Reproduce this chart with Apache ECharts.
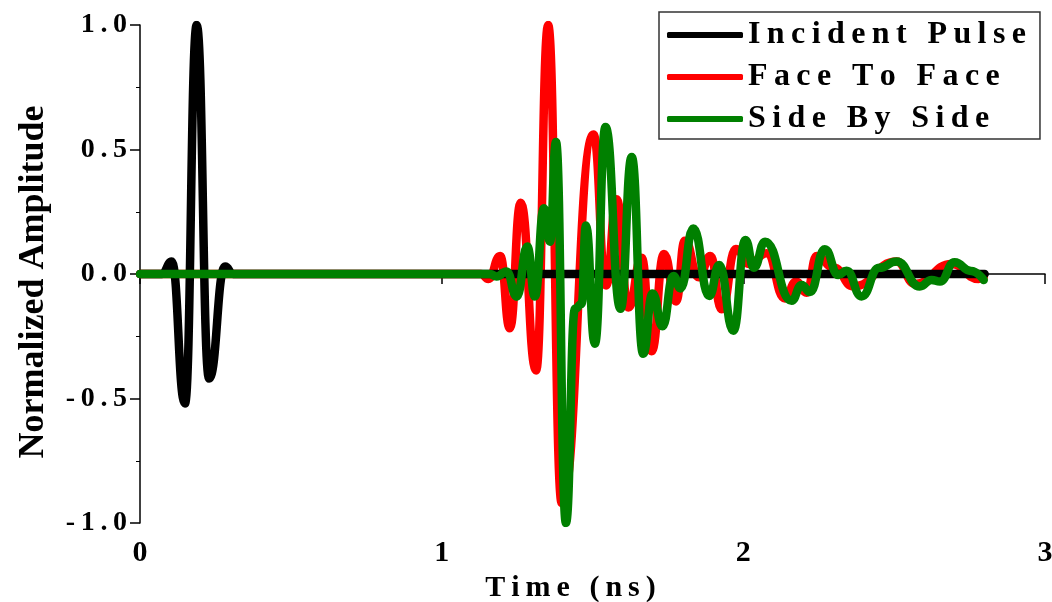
<!DOCTYPE html>
<html>
<head>
<meta charset="utf-8">
<script src="https://cdn.jsdelivr.net/npm/echarts@6/dist/echarts.min.js"></script>
<style>
  html, body { margin: 0; padding: 0; background: #fff; }
  #chart { width: 1052px; height: 602px; }
</style>
</head>
<body>
<div id="chart"></div>
<script>
// time (ns) / normalized amplitude at the turning points
const incidentT = [0, 0.072, 0.105, 0.149, 0.188, 0.229, 0.282, 0.309, 2.8]
const incidentA = [0, 0, 0.05, -0.52, 1.0, -0.42, 0.03, 0, 0]

const faceT = [0, 1.13, 1.155, 1.194, 1.226, 1.262, 1.313, 1.353, 1.398, 1.503, 1.545, 1.58, 1.619, 1.663, 1.696,
  1.737, 1.777, 1.806, 1.852, 1.891, 1.928, 1.975, 2.02, 2.077, 2.138, 2.175, 2.21, 2.243, 2.3, 2.364,
  2.508, 2.569, 2.69, 2.78, 2.797]
const faceA = [0, 0, -0.02, 0.072, -0.218, 0.286, -0.388, 1.0, -0.92, 0.56, -0.046, 0.3, -0.135, 0.065, -0.31,
  0.08, -0.11, 0.134, -0.013, 0.072, -0.142, 0.1, 0.04, 0.083, -0.098, -0.03, -0.075, 0.072, 0.025, -0.05,
  0.05, -0.04, 0.04, -0.02, -0.012]

const sideT = [0, 1.16, 1.182, 1.215, 1.249, 1.284, 1.309, 1.339, 1.359, 1.379, 1.412, 1.442, 1.464, 1.478,
  1.508, 1.543, 1.593, 1.63, 1.668, 1.699, 1.732, 1.768, 1.792, 1.834, 1.887, 1.92, 1.967, 2.007, 2.035,
  2.072, 2.16, 2.193, 2.221, 2.27, 2.315, 2.342, 2.392, 2.45, 2.508, 2.585, 2.624, 2.652, 2.7, 2.755, 2.797]
const sideA = [0, 0, -0.01, 0.01, -0.091, 0.11, -0.09, 0.264, 0.13, 0.53, -1.0, -0.14, -0.12, 0.195,
  -0.28, 0.59, -0.14, 0.47, -0.32, -0.078, -0.21, -0.008, -0.058, 0.183, -0.088, 0.036, -0.228, 0.137, 0.025,
  0.13, -0.107, -0.044, -0.072, 0.099, -0.004, 0.013, -0.09, 0.025, 0.05, -0.05, -0.024, -0.03, 0.047, 0.012, -0.024]

const xTicks = [0, 1, 2, 3]
const yTicks = [-1.0, -0.5, 0.0, 0.5, 1.0]

const FONT = "'Liberation Serif', 'Times New Roman', serif"

// the original letter-spaces most of its text
function spaced(s) {
  return s.split('').join('\u2009')
}

function zip(xs, ys) {
  return xs.map((x, i) => [x, ys[i]])
}

function lineSeries(name, color, xs, ys) {
  return {
    name,
    type: 'line',
    data: zip(xs, ys),
    smooth: 0.5,
    smoothMonotone: 'x',
    showSymbol: false,
    symbol: 'none',
    lineStyle: { color, width: 8.5, cap: 'round', join: 'round' },
    itemStyle: { color },
  }
}

const chart = echarts.init(document.getElementById('chart'))

chart.setOption({
  animation: false,
  backgroundColor: '#fff',
  grid: { left: 140, right: 7, top: 25, bottom: 79, outerBoundsMode: 'none' },
  legend: {
    data: ['Incident Pulse', 'Face To Face', 'Side By Side'],
    orient: 'vertical',
    left: 659,
    top: 12,
    padding: [7, 14, 4, 8],
    itemGap: 10,
    itemWidth: 76,
    itemHeight: 6,
    icon: 'roundRect',
    borderColor: '#333',
    borderWidth: 1.5,
    formatter: (name) => spaced(name),
    textStyle: { fontFamily: FONT, fontWeight: 'bold', fontSize: 32, color: '#000' },
  },
  xAxis: {
    type: 'value',
    min: xTicks[0],
    max: xTicks[xTicks.length - 1],
    interval: 1,
    name: spaced('Time (ns)'),
    nameLocation: 'middle',
    nameGap: 47,
    nameTextStyle: { fontFamily: FONT, fontWeight: 'bold', fontSize: 30, color: '#000', padding: [0, 44, 0, 0] },
    axisLine: { lineStyle: { color: '#000', width: 1.5 } },
    axisTick: { length: 10, lineStyle: { color: '#000', width: 1.5 } },
    minorTick: { show: true, splitNumber: 2, length: 4, lineStyle: { color: '#000', width: 1 } },
    axisLabel: { margin: 15, fontFamily: FONT, fontWeight: 'bold', fontSize: 30, color: '#000', formatter: (v) => String(v) },
    splitLine: { show: false },
  },
  yAxis: {
    type: 'value',
    min: yTicks[0],
    max: yTicks[yTicks.length - 1],
    interval: 0.5,
    name: 'Normalized Amplitude',
    nameLocation: 'middle',
    nameGap: 88,
    nameTextStyle: { fontFamily: FONT, fontWeight: 'bold', fontSize: 36, color: '#000', padding: [0, 16, 0, 0] },
    axisLine: { lineStyle: { color: '#000', width: 1.5 } },
    axisTick: { length: 10, lineStyle: { color: '#000', width: 1.5 } },
    minorTick: { show: true, splitNumber: 2, length: 4, lineStyle: { color: '#000', width: 1 } },
    axisLabel: { margin: 13, fontFamily: FONT, fontWeight: 'bold', fontSize: 28, color: '#000', formatter: (v) => spaced(v.toFixed(1)) },
    splitLine: { show: false },
  },
  series: [
    lineSeries('Face To Face', '#ff0000', faceT, faceA),
    lineSeries('Incident Pulse', '#000000', incidentT, incidentA),
    lineSeries('Side By Side', '#008000', sideT, sideA),
  ],
})
</script>
</body>
</html>
